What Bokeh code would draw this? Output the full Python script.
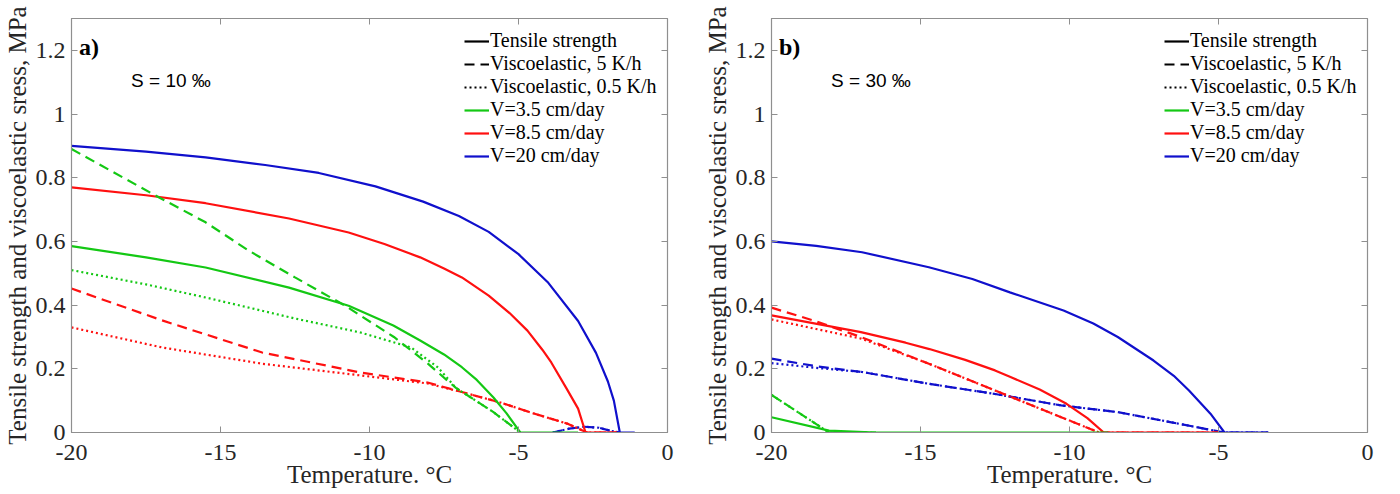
from bokeh.plotting import figure
from bokeh.models import Range1d, LinearAxis, FixedTicker, Legend, LegendItem, Label, CustomJSTickFormatter
from bokeh.layouts import row
from bokeh.embed import file_html
from bokeh.resources import INLINE

# ---------------- data : panel a) S = 10 per mille ----------------
a_ts_green_x = [-20, -17.5, -15.5, -12.7, -10.7, -9.2, -8.3, -7.5, -6.9, -6.4, -5.84, -5.4, -4.94, -3.0]
a_ts_green_y = [0.585, 0.55, 0.518, 0.455, 0.398, 0.336, 0.289, 0.245, 0.205, 0.165, 0.11, 0.06, 0.0, 0.0]
a_ts_red_x = [-20, -17.5, -15.5, -12.7, -10.7, -9.5, -8.3, -7.5, -6.9, -6.0, -5.3, -4.7, -4.2, -3.9, -3.4,
              -3.0, -2.75, -1.7]
a_ts_red_y = [0.77, 0.745, 0.72, 0.672, 0.628, 0.592, 0.55, 0.515, 0.487, 0.43, 0.375, 0.32, 0.26, 0.22, 0.14,
              0.075, 0.0, 0.0]
a_ts_blue_x = [-20, -17.5, -15.5, -13.5, -11.7, -9.8, -8.2, -7.0, -6.0, -5.0, -4.0, -3.0, -2.4, -2.0, -1.8,
               -1.6, -1.1]
a_ts_blue_y = [0.90, 0.882, 0.864, 0.84, 0.815, 0.773, 0.725, 0.68, 0.63, 0.56, 0.47, 0.35, 0.25, 0.16, 0.10,
               0.0, 0.0]

a_v5_green_x = [-20, -17.06, -15.5, -14.05, -12.5, -10.85, -9.18, -8.05, -7.1, -5.84, -4.94]
a_v5_green_y = [0.89, 0.738, 0.66, 0.571, 0.487, 0.40, 0.30, 0.217, 0.14, 0.064, 0.0]
a_v05_green_x = [-20, -17.5, -15.5, -12.5, -10.3, -8.6, -7.7, -7.1, -5.84, -4.94]
a_v05_green_y = [0.51, 0.465, 0.424, 0.358, 0.314, 0.267, 0.204, 0.14, 0.064, 0.0]

a_v5_red_x = [-20, -16.96, -13.6, -10.28, -8.05, -6.9, -5.6, -4.5, -3.37, -2.7, -1.7]
a_v5_red_y = [0.452, 0.352, 0.251, 0.188, 0.157, 0.127, 0.094, 0.06, 0.028, 0.0, 0.0]
a_v05_red_x = [-20, -16.96, -13.6, -10.28, -8.05, -6.9, -5.6, -4.5, -3.37, -2.7, -1.7]
a_v05_red_y = [0.33, 0.267, 0.216, 0.179, 0.154, 0.127, 0.094, 0.06, 0.028, 0.0, 0.0]

a_v_blue_x = [-3.85, -3.3, -2.8, -2.3, -1.9, -1.6]
a_v_blue_y = [0.0, 0.012, 0.018, 0.015, 0.005, 0.0]

# ---------------- data : panel b) S = 30 per mille ----------------
b_ts_green_x = [-20, -18.07, -16.5, -8.7]
b_ts_green_y = [0.048, 0.006, 0.0, 0.0]
b_v_green_x = [-20, -18.07, -16.5]
b_v_green_y = [0.118, 0.0, 0.0]

b_ts_red_x = [-20, -17.0, -15.5, -14.7, -13.5, -12.5, -12.0, -11.0, -10.1, -9.4, -8.85, -5.0]
b_ts_red_y = [0.368, 0.315, 0.282, 0.262, 0.228, 0.195, 0.175, 0.135, 0.09, 0.045, 0.0, 0.0]
b_v5_red_x = [-20, -18.6, -17.0, -14.72, -12.5, -10.28, -9.0, -5.0]
b_v5_red_y = [0.392, 0.352, 0.30, 0.216, 0.132, 0.048, 0.0, 0.0]
b_v05_red_x = [-20, -18.5, -17.0, -14.72, -12.5, -10.28, -9.0, -5.0]
b_v05_red_y = [0.355, 0.325, 0.295, 0.216, 0.132, 0.048, 0.0, 0.0]

b_ts_blue_x = [-20, -18.5, -16.96, -14.72, -13.26, -12.0, -10.2, -9.2, -8.38, -7.18, -6.5, -5.99, -5.27, -4.8,
               -3.33]
b_ts_blue_y = [0.60, 0.586, 0.566, 0.519, 0.482, 0.44, 0.383, 0.342, 0.30, 0.226, 0.178, 0.132, 0.059, 0.0,
               0.0]
b_v5_blue_x = [-20, -18.5, -16.96, -14.72, -12.5, -10.28, -8.38, -6.58, -5.03, -4.8, -3.33]
b_v5_blue_y = [0.232, 0.208, 0.19, 0.153, 0.121, 0.085, 0.064, 0.032, 0.004, 0.0, 0.0]
b_v05_blue_x = [-20, -18.5, -16.96, -14.72, -12.5, -10.28, -8.38, -6.58, -5.03, -4.8, -3.33]
b_v05_blue_y = [0.218, 0.203, 0.19, 0.153, 0.121, 0.085, 0.064, 0.032, 0.004, 0.0, 0.0]

x_ticks = [-20, -15, -10, -5, 0]
y_ticks = [0, 0.2, 0.4, 0.6, 0.8, 1, 1.2]
legend_labels = ["Tensile strength", "Viscoelastic, 5 K/h", "Viscoelastic, 0.5 K/h",
                 "V=3.5 cm/day", "V=8.5 cm/day", "V=20 cm/day"]

GREEN = "#14c814"
RED = "#ff1010"
BLUE = "#1010cc"
GRAY = "#8f8f8f"
TXT = "#262626"
SERIF = "Liberation Serif"
LW = 2.2
DASH = "10 6"
DOT = "2 3"
NAN = float("nan")


def make_fig(panel_label, s_label):
    p = figure(width=700, height=494, output_backend="svg", toolbar_location=None,
               x_range=Range1d(-20, 0), y_range=Range1d(0, 1.3),
               min_border_left=69, min_border_right=33,
               min_border_top=18, min_border_bottom=62)
    p.xgrid.visible = False
    p.ygrid.visible = False
    p.outline_line_color = GRAY
    p.background_fill_color = "white"
    p.border_fill_color = "white"
    fmt = CustomJSTickFormatter(code="return String(tick);")
    for ax, ticks in ((p.xaxis[0], x_ticks), (p.yaxis[0], y_ticks)):
        ax.ticker = FixedTicker(ticks=ticks)
        ax.formatter = fmt
        ax.axis_line_color = GRAY
        ax.axis_line_width = 1.2
        ax.major_tick_line_color = GRAY
        ax.major_tick_in = 6
        ax.major_tick_out = 0
        ax.minor_tick_line_color = None
        ax.major_label_text_font = SERIF
        ax.major_label_text_font_size = "24px"
        ax.major_label_text_color = TXT
        ax.axis_label_text_font = SERIF
        ax.axis_label_text_font_size = "25px"
        ax.axis_label_text_font_style = "normal"
        ax.axis_label_text_color = TXT
    p.xaxis.axis_label = "Temperature. °C"
    p.yaxis.axis_label = "Tensile strength and viscoelastic sress, MPa"
    p.xaxis.major_label_standoff = 12
    p.xaxis.axis_label_standoff = -2
    p.yaxis.major_label_standoff = 6
    p.yaxis.axis_label_standoff = 2
    # mirrored box ticks (no labels)
    blank = CustomJSTickFormatter(code="return '';")
    for loc, ticks in (("above", x_ticks), ("right", y_ticks)):
        ax = LinearAxis(ticker=FixedTicker(ticks=ticks), formatter=blank,
                        axis_line_color=GRAY, axis_line_width=1.2,
                        major_tick_line_color=GRAY, major_tick_in=6, major_tick_out=0,
                        minor_tick_line_color=None, major_label_standoff=0)
        p.add_layout(ax, loc)
    p.add_layout(Label(x=-19.75, y=1.21, text=panel_label, text_font=SERIF, text_font_size="24px",
                       text_font_style="bold", text_color="black", text_baseline="middle"))
    p.add_layout(Label(x=-18.0, y=1.105, text=s_label, text_font="Liberation Sans",
                       text_font_size="19px", text_color="black", text_baseline="middle"))
    # legend (proxy entries, a single NaN row so nothing is drawn in the plot)
    styles = [("black", "solid"), ("black", DASH), ("black", DOT),
              (GREEN, "solid"), (RED, "solid"), (BLUE, "solid")]
    proxies = [p.line(x=[NAN], y=[NAN], line_color=c, line_width=LW, line_dash=d) for c, d in styles]
    leg = Legend(items=[LegendItem(label=l, renderers=[r]) for l, r in zip(legend_labels, proxies)],
                 location=(393, 265), border_line_color=None, background_fill_alpha=0,
                 label_text_font=SERIF, label_text_font_size="20px", label_text_color="black",
                 glyph_width=25, glyph_height=20, label_height=20, spacing=0, padding=0,
                 margin=0, label_standoff=1)
    p.add_layout(leg)
    return p


def solid(p, x, y, c):
    p.line(x, y, line_color=c, line_width=LW)


def dashed(p, x, y, c):
    p.line(x, y, line_color=c, line_width=LW, line_dash=DASH)


def dotted(p, x, y, c):
    p.line(x, y, line_color=c, line_width=LW, line_dash=DOT)


p1 = make_fig("a)", "S = 10 \u2030")
dashed(p1, a_v_blue_x, a_v_blue_y, BLUE)
dotted(p1, a_v_blue_x, a_v_blue_y, BLUE)
solid(p1, a_ts_blue_x, a_ts_blue_y, BLUE)
dashed(p1, a_v5_red_x, a_v5_red_y, RED)
dotted(p1, a_v05_red_x, a_v05_red_y, RED)
solid(p1, a_ts_red_x, a_ts_red_y, RED)
dashed(p1, a_v5_green_x, a_v5_green_y, GREEN)
dotted(p1, a_v05_green_x, a_v05_green_y, GREEN)
solid(p1, a_ts_green_x, a_ts_green_y, GREEN)

p2 = make_fig("b)", "S = 30 \u2030")
solid(p2, b_ts_blue_x, b_ts_blue_y, BLUE)
dashed(p2, b_v5_blue_x, b_v5_blue_y, BLUE)
dotted(p2, b_v05_blue_x, b_v05_blue_y, BLUE)
solid(p2, b_ts_red_x, b_ts_red_y, RED)
dashed(p2, b_v5_red_x, b_v5_red_y, RED)
dotted(p2, b_v05_red_x, b_v05_red_y, RED)
dashed(p2, b_v_green_x, b_v_green_y, GREEN)
dotted(p2, b_v_green_x, b_v_green_y, GREEN)
solid(p2, b_ts_green_x, b_ts_green_y, GREEN)

layout = row(p1, p2)
open("out.html", "w").write(file_html(layout, INLINE))
